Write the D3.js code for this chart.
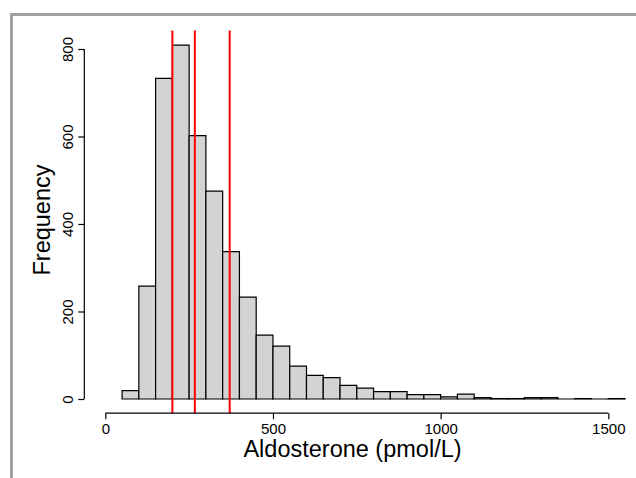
<!DOCTYPE html>
<html>
<head>
<meta charset="utf-8">
<script src="https://cdn.jsdelivr.net/npm/d3@7"></script>
<style>
  body { margin: 0; background: #fff; }
  svg { display: block; font-family: "Liberation Sans", Arial, Helvetica, sans-serif; }
  .axis text { font-size: 15px; fill: #000; }
  .axis line { stroke: #000; stroke-width: 1.2; }
  .axis-label { font-size: 23.5px; fill: #000; }
</style>
</head>
<body>
<svg width="636" height="478"></svg>
<script>
var svg = d3.select('svg');

// Histogram bins (left edges, width 50) and counts
var binStarts = [50, 100, 150, 200, 250, 300, 350, 400, 450, 500,
                 550, 600, 650, 700, 750, 800, 850, 900, 950, 1000,
                 1050, 1100, 1150, 1200, 1250, 1300, 1350, 1400, 1450, 1500];
var counts = [19, 258, 733, 809, 602, 475, 337, 233, 146, 121,
              75, 54, 49, 31, 25, 17, 17, 10, 10, 5,
              11, 3, 1, 1, 3, 3, 0, 1, 0, 1];
var binWidth = 50;

// Vertical reference lines
var refLines = [200, 267, 371];

var xTicks = [0, 500, 1000, 1500];
var yTicks = [0, 200, 400, 600, 800];

// Scales (R-style user region)
var xScale = d3.scaleLinear().domain([0, 1500]).range([105.3, 608.3]);
var yScale = d3.scaleLinear().domain([0, 800]).range([399, 49]);
var yUsr = [-32.4, 842.4];

// outer frame (only top/left visible)
svg.append('rect')
  .attr('x', 11.5).attr('y', 14.5)
  .attr('width', 700).attr('height', 600)
  .attr('fill', 'none')
  .attr('stroke', '#a0a0a0')
  .attr('stroke-width', 3);

// bars drawn as closed paths so empty bins still show a line
svg.append('g').selectAll('path')
  .data(binStarts)
  .enter()
  .append('path')
  .attr('d', function (d, i) {
    var x0 = xScale(d), x1 = xScale(d + binWidth);
    var y0 = yScale(0), y1 = yScale(counts[i]);
    return 'M' + x0 + ',' + y0 + 'V' + y1 + 'H' + x1 + 'V' + y0 + 'Z';
  })
  .attr('fill', '#d3d3d3')
  .attr('stroke', '#000')
  .attr('stroke-width', 1.2);

// red lines
svg.append('g').selectAll('line')
  .data(refLines)
  .enter()
  .append('line')
  .attr('x1', function (d) { return xScale(d); })
  .attr('x2', function (d) { return xScale(d); })
  .attr('y1', yScale(yUsr[1]))
  .attr('y2', yScale(yUsr[0]))
  .attr('stroke', '#ff0000')
  .attr('stroke-width', 2);

// x axis
var xAxisY = yScale(yUsr[0]);
var xAxisG = svg.append('g')
  .attr('class', 'axis')
  .attr('transform', 'translate(0,' + xAxisY + ')')
  .call(d3.axisBottom(xScale).tickValues(xTicks).tickFormat(d3.format('d'))
    .tickSize(6).tickSizeOuter(0));
xAxisG.select('.domain').remove();
xAxisG.append('line')
  .attr('x1', xScale(xTicks[0])).attr('x2', xScale(xTicks[xTicks.length - 1]))
  .attr('y1', 0).attr('y2', 0);
xAxisG.selectAll('.tick text').attr('y', 21).attr('dy', 0);

// y axis
var yAxisX = 84.3;
var yAxisG = svg.append('g')
  .attr('class', 'axis')
  .attr('transform', 'translate(' + yAxisX + ',0)')
  .call(d3.axisLeft(yScale).tickValues(yTicks).tickFormat(d3.format('d'))
    .tickSize(6).tickSizeOuter(0));
yAxisG.select('.domain').remove();
yAxisG.append('line')
  .attr('x1', 0).attr('x2', 0)
  .attr('y1', yScale(yTicks[0])).attr('y2', yScale(yTicks[yTicks.length - 1]));
yAxisG.selectAll('.tick text')
  .attr('transform', 'rotate(-90)')
  .attr('x', 0).attr('y', -11.3).attr('dy', 0)
  .attr('text-anchor', 'middle');

// axis titles
svg.append('text')
  .attr('class', 'axis-label')
  .attr('x', 352.5).attr('y', 457.3)
  .attr('text-anchor', 'middle')
  .text('Aldosterone (pmol/L)');

svg.append('text')
  .attr('class', 'axis-label')
  .attr('transform', 'translate(49.5,220)rotate(-90)')
  .attr('text-anchor', 'middle')
  .text('Frequency');
</script>
</body>
</html>
